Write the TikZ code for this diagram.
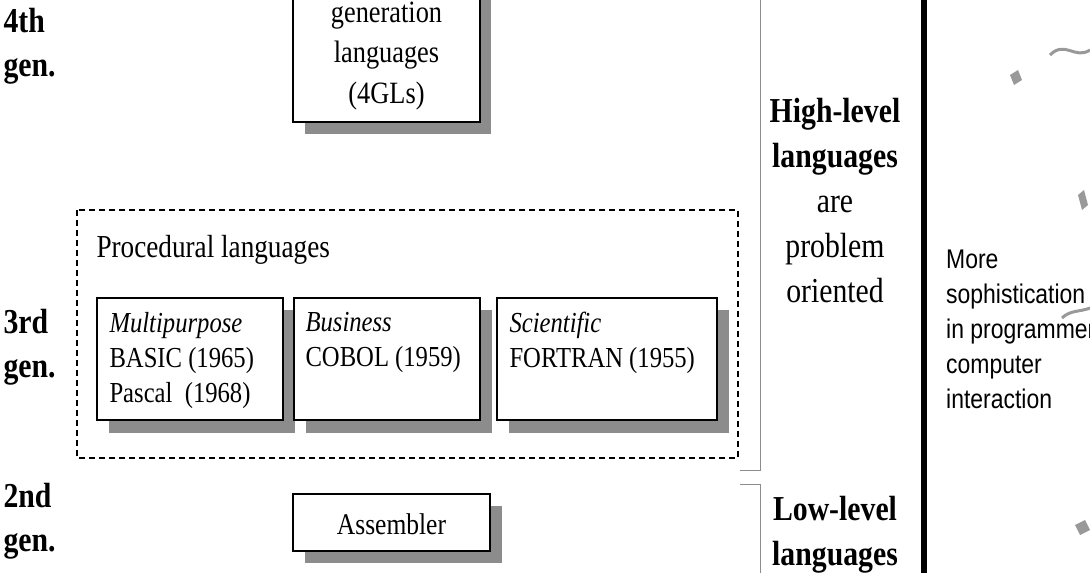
\documentclass[tikz,border=0pt]{standalone}
\usepackage{fontspec}
\setmainfont[FakeStretch=0.85]{Liberation Serif}
\newfontfamily\sansf[FakeStretch=0.85]{Liberation Sans}
\begin{document}
\begin{tikzpicture}[x=1pt,y=-1pt,
  box/.style={draw,line width=1.3pt,fill=white},
  shadow/.style={fill=black!45},
  gen/.style={font=\fontsize{35}{44}\selectfont\bfseries,anchor=west,align=left},
  txt/.style={font=\fontsize{32}{38}\selectfont},
  btxt/.style={anchor=north west,align=left,font=\fontsize{29}{35}\selectfont},
  rt/.style={font=\fontsize{35}{45}\selectfont,align=center},
  brk/.style={draw=black!45,line width=1pt}]
\useasboundingbox (0,0) rectangle (1090,573);
\clip (0,0) rectangle (1090,573);
% gen labels
\node[gen] (g4) at (0,46) {4th\\gen.};
\node[gen] (g3) at (0,347) {3rd\\gen.};
\node[gen] (g2) at (0,521) {2nd\\gen.};
% 4GL box
\fill[shadow] (305,-40) rectangle (491,134);
\draw[box] (293,-50) rectangle (480,122);
\node[align=center,font=\fontsize{31}{40.5}\selectfont] (fgl) at (386.5,56) {generation\\languages\\(4GLs)};
% procedural
\draw[dash pattern=on 6pt off 4pt,line width=1.5pt] (77,210) rectangle (738,458);
\node[txt,anchor=west] (proc) at (93,250) {Procedural languages};
\foreach \a/\b/\n in {97/283/b1,294/480/b2,497/717/b3}{
  \fill[shadow] (\a+12,310) rectangle (\b+12,433);
  \draw[box] (\a,298) rectangle (\b,420);
}
\node[btxt] (t1) at (106,309) {\textit{Multipurpose}\\BASIC (1965)\\Pascal~ (1968)};
\node[btxt] (t2) at (302,309) {\textit{Business}\\COBOL (1959)};
\node[btxt] (t3) at (506,309) {\textit{Scientific}\\FORTRAN (1955)};
% assembler
\fill[shadow] (305,506) rectangle (502,563);
\draw[box] (293,494) rectangle (490,551);
\node[font=\fontsize{30}{30}\selectfont] (asm) at (391.5,524) {Assembler};
% brackets
\draw[brk] (760,0) -- (760,470) -- (740,470);
\draw[brk] (740,484) -- (760,484) -- (760,573);
% right texts
\node[rt] (hl) at (835,201) {\textbf{High-level}\\\textbf{languages}\\are\\problem\\oriented};
\node[rt] (ll) at (835,535) {\textbf{Low-level}\\\textbf{languages}};
\draw[line width=6pt] (924,0) -- (924,573);
\node[anchor=north west,align=left,inner sep=0pt,font=\sansf\fontsize{27}{35}\selectfont] (more) at (946,250) {More\\sophistication\\in programmer\\computer\\interaction};
% confetti
\fill[black!40] (1010,75) -- (1018,70) -- (1022,80) -- (1014,85) -- cycle;
\draw[black!40,line width=3pt] (1050,55) .. controls (1065,40) and (1075,60) .. (1090,50);
\fill[black!40] (1078,195) -- (1084,190) -- (1088,205) -- (1082,210) -- cycle;
\draw[black!40,line width=3pt] (1062,318) .. controls (1070,310) and (1080,312) .. (1090,308);
\fill[black!40] (1075,525) -- (1085,520) -- (1090,530) -- (1080,535) -- cycle;
\end{tikzpicture}
\end{document}
